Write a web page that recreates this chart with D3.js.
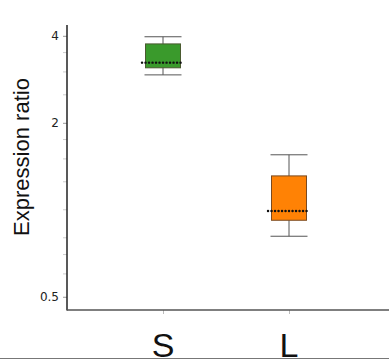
<!DOCTYPE html>
<html>
<head>
<meta charset="utf-8">
<script src="https://cdn.jsdelivr.net/npm/d3@7"></script>
<style>
  body { margin: 0; background: #fff; }
  svg { display: block; }
</style>
</head>
<body>
<svg id="chart" width="389" height="364"></svg>
<script>
// groups and their box statistics
const groups = ["S", "L"];
const whiskerLow = [2.93, 0.81];
const q1 = [3.10, 0.92];
const medians = [3.23, 0.99];
const q3 = [3.75, 1.31];
const whiskerHigh = [3.97, 1.55];
const fills = ["#3a9a2c", "#ff8205"];
const strokes = ["#4a5a30", "#7a4a20"];

const yTicks = [0.5, 2, 4];
const yMinor = [0.6, 0.7, 0.8, 1, 1.25, 1.5, 1.75, 2.5, 3, 3.5];

const svg = d3.select("#chart");

var y = d3.scaleLog().base(2).domain([0.45, 4.36]).range([310, 25]);
var x = d3.scalePoint().domain(groups).range([100, 352]).padding(0.5);

const axisLeft = 67, axisRight = 389;

// minor ticks
svg.append("g")
  .selectAll("line")
  .data(yMinor)
  .enter().append("line")
    .attr("x1", axisLeft - 4).attr("x2", axisLeft)
    .attr("y1", d => y(d)).attr("y2", d => y(d))
    .attr("stroke", "#ccc").attr("stroke-width", 1);

// y axis
const yAxis = svg.append("g")
  .attr("transform", `translate(${axisLeft},0)`)
  .call(d3.axisLeft(y).tickValues(yTicks).tickFormat(d => d).tickSize(4).tickPadding(4));
yAxis.select(".domain").remove();
yAxis.selectAll(".tick line").attr("stroke", "#999");
yAxis.selectAll(".tick text")
  .attr("font-family", "DejaVu Sans, sans-serif")
  .attr("font-size", 12).attr("fill", "#222");

svg.append("line")
  .attr("x1", axisLeft).attr("x2", axisLeft)
  .attr("y1", 25).attr("y2", 310.5)
  .attr("stroke", "#222").attr("stroke-width", 1.5);

// x axis
const xAxis = svg.append("g")
  .attr("transform", "translate(0,310)")
  .call(d3.axisBottom(x).tickSize(4).tickFormat(""));
xAxis.select(".domain").remove();
xAxis.selectAll(".tick line").attr("stroke", "#bbb");

svg.append("line")
  .attr("x1", axisLeft).attr("x2", axisRight)
  .attr("y1", 310).attr("y2", 310)
  .attr("stroke", "#555").attr("stroke-width", 1.5);

// category labels
svg.append("g")
  .selectAll("text")
  .data(groups)
  .enter().append("text")
    .attr("x", d => x(d))
    .attr("y", 357)
    .attr("text-anchor", "middle")
    .attr("font-family", "Liberation Sans, Arial, sans-serif")
    .attr("font-size", 34)
    .attr("fill", "#111")
    .text(d => d);

// y label
svg.append("text")
  .attr("transform", "translate(29,157) rotate(-90)")
  .attr("text-anchor", "middle")
  .attr("font-family", "Liberation Sans, Arial, sans-serif")
  .attr("font-size", 22)
  .attr("fill", "#111")
  .text("Expression ratio");

// boxes
const boxW = 35, capW = 37, medW = 42;
const box = svg.append("g")
  .selectAll("g")
  .data(groups)
  .enter().append("g");

box.append("line")
  .attr("x1", d => x(d)).attr("x2", d => x(d))
  .attr("y1", (d, i) => y(whiskerHigh[i]))
  .attr("y2", (d, i) => y(whiskerLow[i]))
  .attr("stroke", "#555");

box.append("line")
  .attr("x1", d => x(d) - capW / 2).attr("x2", d => x(d) + capW / 2)
  .attr("y1", (d, i) => y(whiskerHigh[i])).attr("y2", (d, i) => y(whiskerHigh[i]))
  .attr("stroke", "#555");
box.append("line")
  .attr("x1", d => x(d) - capW / 2).attr("x2", d => x(d) + capW / 2)
  .attr("y1", (d, i) => y(whiskerLow[i])).attr("y2", (d, i) => y(whiskerLow[i]))
  .attr("stroke", "#555");

box.append("rect")
  .attr("x", d => x(d) - boxW / 2)
  .attr("width", boxW)
  .attr("y", (d, i) => y(q3[i]))
  .attr("height", (d, i) => y(q1[i]) - y(q3[i]))
  .attr("fill", (d, i) => fills[i])
  .attr("stroke", (d, i) => strokes[i])
  .attr("stroke-width", 1);

// dotted median
box.append("line")
  .attr("x1", d => x(d) - medW / 2).attr("x2", d => x(d) + medW / 2)
  .attr("y1", (d, i) => y(medians[i])).attr("y2", (d, i) => y(medians[i]))
  .attr("stroke", "#111")
  .attr("stroke-width", 2.4)
  .attr("stroke-linecap", "round")
  .attr("stroke-dasharray", "0.1,3.4");

// bottom frame line
svg.append("line")
  .attr("x1", 0).attr("x2", 389)
  .attr("y1", 358.5).attr("y2", 358.5)
  .attr("stroke", "#777").attr("stroke-width", 1);
</script>
</body>
</html>
